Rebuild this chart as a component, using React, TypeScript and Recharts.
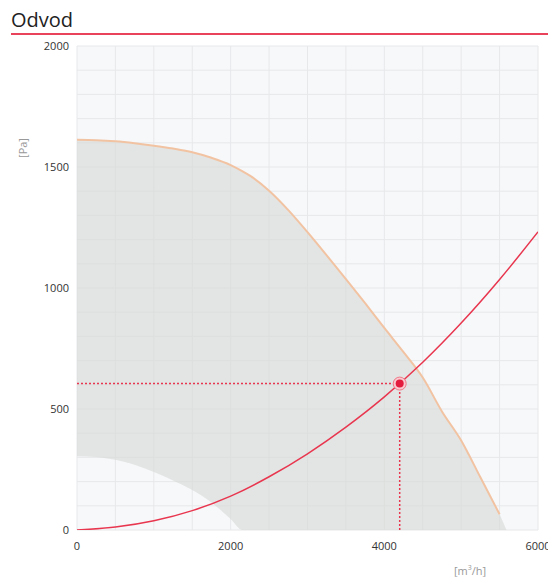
import React from "react";
import {
  ComposedChart,
  Area,
  Line,
  Scatter,
  XAxis,
  YAxis,
  CartesianGrid,
  ReferenceLine,
} from "recharts";

// fan curve (upper edge of the gray working range)
const fanFlow = [0, 250, 500, 750, 1000, 1250, 1500, 1750, 2000, 2150, 2250, 2500, 2750, 3000, 3250, 3500, 3750, 4000, 4250, 4500, 4750, 5000, 5250, 5500, 5590];
const fanPressure = [1613, 1611, 1606, 1598, 1588, 1576, 1561, 1538, 1508, 1483, 1464, 1402, 1322, 1231, 1135, 1037, 937, 835, 735, 630, 490, 370, 218, 65, 0];
// lower edge of the working range (zero beyond its end)
const lowerPressure = [305, 302, 290, 270, 240, 205, 165, 114, 45, 0, 0, 0, 0, 0, 0, 0, 0, 0, 0, 0, 0, 0, 0, 0, 0];

// system curve
const sysFlow = [0, 500, 1000, 1500, 2000, 2500, 3000, 3500, 4000, 4500, 5000, 5500, 6000];
const sysPressure = [0, 12, 38, 80, 140, 220, 315, 425, 550, 693, 855, 1035, 1232];

// operating point
const opFlow = 4200;
const opPressure = 605;

const xTicks = [0, 500, 1000, 1500, 2000, 2500, 3000, 3500, 4000, 4500, 5000, 5500, 6000];
const yTicks = Array.from({ length: 21 }, (_, i) => i * 100);

const RED = "#e8364f";
const FONT = "'Open Sans', sans-serif";

const bandData = fanFlow.map((x, i) => ({ x, band: [lowerPressure[i], fanPressure[i]] }));
const fanLineData = fanFlow.slice(0, -1).map((x, i) => ({ x, y: fanPressure[i] }));
const sysData = sysFlow.map((x, i) => ({ x, y: sysPressure[i] }));
const opData = [{ x: opFlow, y: opPressure }];

const OpDot = (props: any) => {
  const { cx, cy } = props;
  return (
    <g>
      <circle cx={cx} cy={cy} r={6.5} fill="#f9c9cf" stroke="#f07a8a" strokeWidth={1} />
      <circle cx={cx} cy={cy} r={4} fill="#e31c3d" />
    </g>
  );
};

export default function App() {
  return (
    <div style={{ position: "absolute", left: 0, top: 0, width: 548, height: 578, background: "#fff", fontFamily: FONT }}>
      <div style={{ position: "absolute", left: 11, top: 7, fontSize: 20, color: "#222", lineHeight: "26px" }}>Odvod</div>
      <div style={{ position: "absolute", left: 11, top: 33, width: 537, height: 2, background: "#e8435a" }} />
      <div
        style={{
          position: "absolute",
          left: 22,
          top: 148,
          fontSize: 11,
          color: "#999",
          transform: "translate(-50%, -50%) rotate(-90deg)",
          whiteSpace: "nowrap",
        }}
      >
        [Pa]
      </div>
      <div style={{ position: "absolute", left: 470, top: 570, fontSize: 11, color: "#999", transform: "translate(-50%, -50%)" }}>
        [m<sup style={{ fontSize: 7 }}>3</sup>/h]
      </div>
      <ComposedChart width={548} height={578} margin={{ top: 46, right: 10, bottom: 18, left: 0 }}>
        <CartesianGrid stroke="#e7e8ea" fill="#f7f8fa" strokeWidth={1} />
        <XAxis
          type="number"
          dataKey="x"
          domain={[0, 6000]}
          ticks={xTicks}
          interval={0}
          allowDataOverflow
          height={30}
          axisLine={false}
          tickLine={false}
          tickMargin={6}
          tick={{ fontSize: 11, fill: "#333", fontFamily: FONT }}
          tickFormatter={(v: number) => (v % 2000 === 0 ? String(v) : "")}
        />
        <YAxis
          type="number"
          domain={[0, 2000]}
          ticks={yTicks}
          interval={0}
          allowDataOverflow
          width={77}
          axisLine={false}
          tickLine={false}
          tick={{ fontSize: 11, fill: "#333", fontFamily: FONT }}
          tickFormatter={(v: number) => (v % 500 === 0 ? String(v) : "")}
        />
        <Area
          data={bandData}
          dataKey="band"
          type="monotone"
          stroke="none"
          fill="#d6d8d6"
          fillOpacity={0.6}
          isAnimationActive={false}
        />
        <Line
          data={fanLineData}
          dataKey="y"
          type="monotone"
          stroke="#f2c3a2"
          strokeWidth={2}
          dot={false}
          isAnimationActive={false}
        />
        <ReferenceLine
          segment={[{ x: 0, y: opPressure }, { x: opFlow, y: opPressure }]}
          stroke={RED}
          strokeWidth={1.5}
          strokeDasharray="2 2"
        />
        <ReferenceLine
          segment={[{ x: opFlow, y: 0 }, { x: opFlow, y: opPressure }]}
          stroke={RED}
          strokeWidth={1.5}
          strokeDasharray="2 2"
        />
        <Line
          data={sysData}
          dataKey="y"
          type="monotone"
          stroke={RED}
          strokeWidth={1.5}
          dot={false}
          isAnimationActive={false}
        />
        <Scatter data={opData} dataKey="y" shape={OpDot} isAnimationActive={false} />
      </ComposedChart>
    </div>
  );
}
